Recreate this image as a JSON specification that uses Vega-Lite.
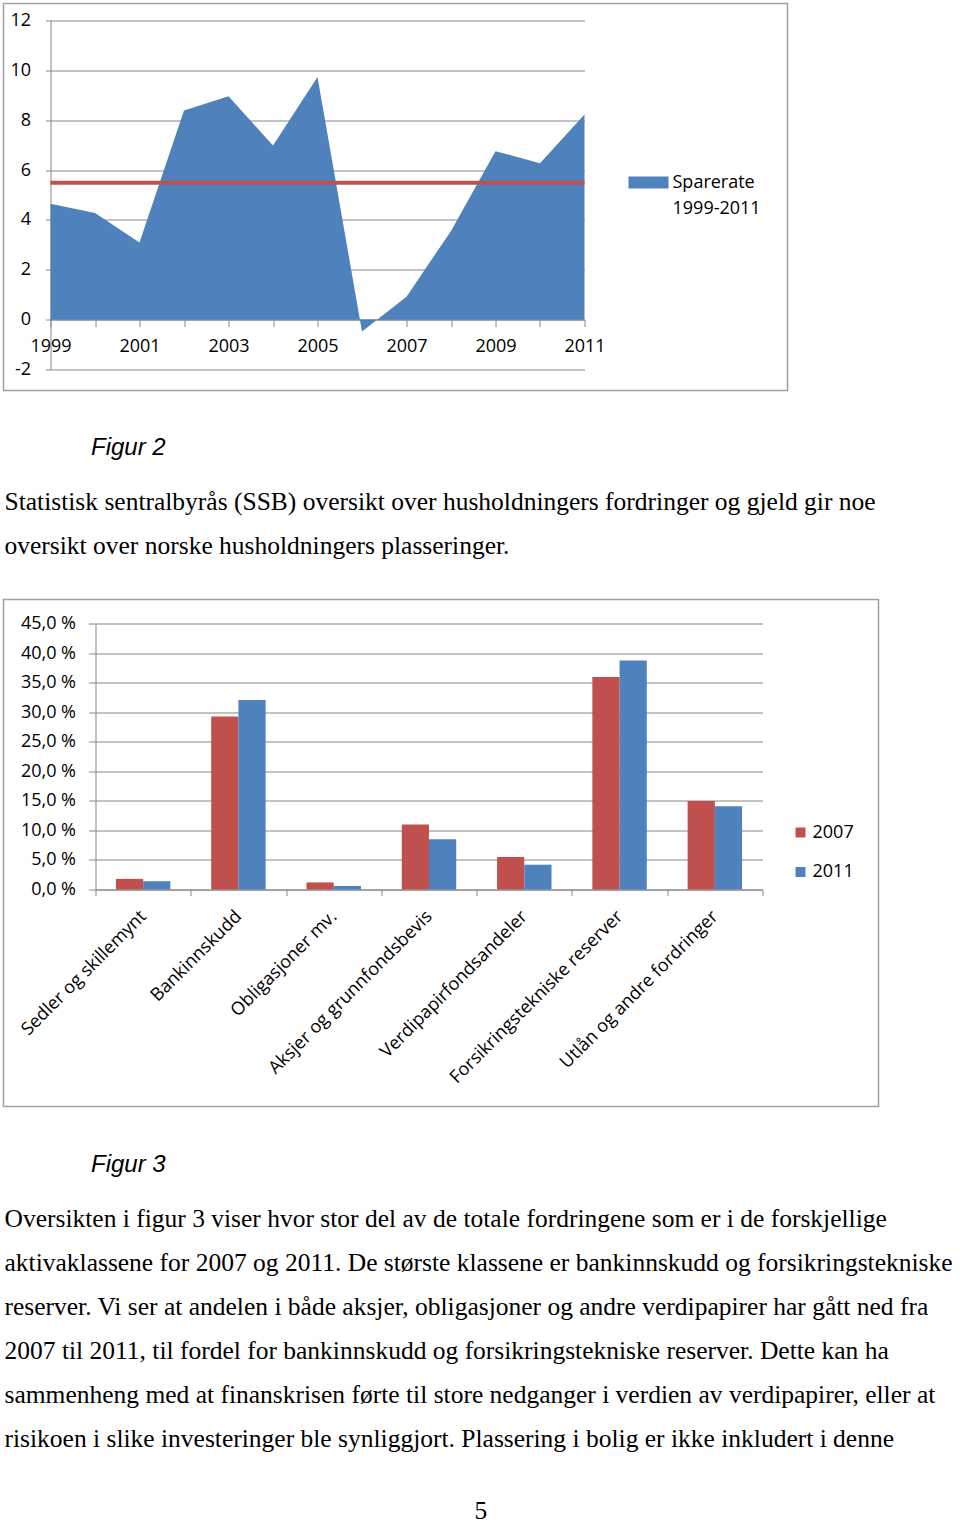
{
  "$schema": "https://vega.github.io/schema/vega-lite/v6.json",
  "background": "white",
  "padding": {"left": -4.5, "top": 2.5, "right": 0, "bottom": 0},
  "bounds": "flush",
  "spacing": 209,
  "resolve": {"scale": {"color": "independent"}, "legend": {"color": "independent"}},
  "config": {
    "view": {"stroke": "#a0a0a0", "strokeWidth": 1.5},
    "axis": {
      "labelFont": "Open Sans",
      "labelFontSize": 18,
      "labelColor": "#000000",
      "domainColor": "#868686",
      "tickColor": "#868686",
      "gridColor": "#868686",
      "gridOpacity": 1,
      "domainWidth": 1,
      "tickWidth": 1,
      "gridWidth": 1
    }
  },
  "title": {
    "text": "5",
    "orient": "bottom",
    "anchor": "start",
    "dx": 478,
    "offset": 46.5,
    "font": "Liberation Serif",
    "fontSize": 25.5,
    "fontWeight": "normal",
    "color": "#000000"
  },
  "vconcat": [
    {
      "width": 784,
      "height": 387,
      "data": {
        "values": [
          {"year": 1999, "rate": 4.65},
          {"year": 2000, "rate": 4.28},
          {"year": 2001, "rate": 3.09},
          {"year": 2002, "rate": 8.39},
          {"year": 2003, "rate": 8.96},
          {"year": 2004, "rate": 6.99},
          {"year": 2005, "rate": 9.73},
          {"year": 2006, "rate": -0.48},
          {"year": 2007, "rate": 0.92},
          {"year": 2008, "rate": 3.56},
          {"year": 2009, "rate": 6.76},
          {"year": 2010, "rate": 6.27},
          {"year": 2011, "rate": 8.23}
        ]
      },
      "title": {
        "text": [
          "Statistisk sentralbyrås (SSB) oversikt over husholdningers fordringer og gjeld gir noe",
          "oversikt over norske husholdningers plasseringer."
        ],
        "orient": "bottom",
        "anchor": "start",
        "frame": "group",
        "offset": 30.3,
        "dx": 1,
        "font": "Liberation Serif",
        "fontSize": 25.5,
        "fontWeight": "normal",
        "color": "#000000",
        "lineHeight": 44
      },
      "layer": [
        {
          "mark": {"type": "area", "strokeWidth": 0},
          "encoding": {
            "x": {
              "field": "year",
              "type": "quantitative",
              "title": "Figur 2",
              "scale": {"domain": [1999, 2011], "range": [47, 581], "nice": false, "zero": false},
              "axis": {
                "values": [1999, 2000, 2001, 2002, 2003, 2004, 2005, 2006, 2007, 2008, 2009, 2010, 2011],
                "labelExpr": "datum.value % 2 == 1 ? '' + datum.value : ''",
                "offset": -71,
                "tickSize": 7,
                "labelPadding": 11,
                "grid": false,
                "labelFlush": false,
                "labelOverlap": false,
                "labelBound": false,
                "titleX": 87,
                "titleY": 135,
                "titleAlign": "left",
                "titleBaseline": "alphabetic",
                "titleAnchor": "start",
                "titleFont": "Liberation Sans",
                "titleFontSize": 24,
                "titleFontStyle": "italic",
                "titleFontWeight": "normal",
                "titleColor": "#000000"
              }
            },
            "y": {
              "field": "rate",
              "type": "quantitative",
              "title": null,
              "scale": {"domain": [-2, 12], "range": [366, 17], "nice": false},
              "axis": {
                "values": [-2, 0, 2, 4, 6, 8, 10, 12],
                "labelExpr": "'' + datum.value",
                "offset": -47,
                "tickSize": 5,
                "labelPadding": 15,
                "grid": true,
                "labelFlush": false
              }
            },
            "color": {
              "datum": "Sparerate 1999-2011",
              "type": "nominal",
              "scale": {"domain": ["Sparerate 1999-2011"], "range": ["#4F81BD"]},
              "legend": {
                "orient": "none",
                "legendX": 625,
                "legendY": 159,
                "title": null,
                "padding": 0,
                "symbolType": "M-1,-0.3H1V0.3H-1Z",
                "symbolSize": 1600,
                "symbolStrokeWidth": 0,
                "symbolOpacity": 1,
                "labelFont": "Open Sans",
                "labelFontSize": 18,
                "labelColor": "#000000",
                "labelOffset": 4,
                "labelExpr": "split(datum.label, ' ')",
                "encode": {"labels": {"update": {"lineHeight": {"value": 26}}}}
              }
            }
          }
        },
        {
          "mark": {"type": "rule", "color": "#C0504D", "strokeWidth": 4},
          "encoding": {
            "x": {"aggregate": "min", "field": "year", "type": "quantitative"},
            "x2": {"aggregate": "max", "field": "year"},
            "y": {"aggregate": "mean", "field": "rate", "type": "quantitative"}
          }
        }
      ]
    },
    {
      "width": 875,
      "height": 507,
      "data": {
        "values": [
          {"kategori": "Sedler og skillemynt", "aar": "2007", "andel": 1.8},
          {"kategori": "Sedler og skillemynt", "aar": "2011", "andel": 1.4},
          {"kategori": "Bankinnskudd", "aar": "2007", "andel": 29.3},
          {"kategori": "Bankinnskudd", "aar": "2011", "andel": 32.1},
          {"kategori": "Obligasjoner mv.", "aar": "2007", "andel": 1.2},
          {"kategori": "Obligasjoner mv.", "aar": "2011", "andel": 0.6},
          {"kategori": "Aksjer og grunnfondsbevis", "aar": "2007", "andel": 11.0},
          {"kategori": "Aksjer og grunnfondsbevis", "aar": "2011", "andel": 8.5},
          {"kategori": "Verdipapirfondsandeler", "aar": "2007", "andel": 5.5},
          {"kategori": "Verdipapirfondsandeler", "aar": "2011", "andel": 4.2},
          {"kategori": "Forsikringstekniske reserver", "aar": "2007", "andel": 36.0},
          {"kategori": "Forsikringstekniske reserver", "aar": "2011", "andel": 38.8},
          {"kategori": "Utlån og andre fordringer", "aar": "2007", "andel": 15.0},
          {"kategori": "Utlån og andre fordringer", "aar": "2011", "andel": 14.1}
        ]
      },
      "title": {
        "text": [
          "Oversikten i figur 3 viser hvor stor del av de totale fordringene som er i de forskjellige",
          "aktivaklassene for 2007 og 2011. De største klassene er bankinnskudd og forsikringstekniske",
          "reserver. Vi ser at andelen i både aksjer, obligasjoner og andre verdipapirer har gått ned fra",
          "2007 til 2011, til fordel for bankinnskudd og forsikringstekniske reserver. Dette kan ha",
          "sammenheng med at finanskrisen førte til store nedganger i verdien av verdipapirer, eller at",
          "risikoen i slike investeringer ble synliggjort. Plassering i bolig er ikke inkludert i denne"
        ],
        "orient": "bottom",
        "anchor": "start",
        "frame": "group",
        "offset": 30.3,
        "dx": 1,
        "font": "Liberation Serif",
        "fontSize": 25.5,
        "fontWeight": "normal",
        "color": "#000000",
        "lineHeight": 44
      },
      "mark": {"type": "bar"},
      "encoding": {
        "x": {
          "field": "kategori",
          "type": "nominal",
          "sort": null,
          "title": "Figur 3",
          "scale": {"range": [92, 759], "paddingInner": 0, "paddingOuter": 0},
          "axis": {
            "offset": -217,
            "tickSize": 6,
            "tickBand": "extent",
            "labelAngle": -45,
            "labelAlign": "right",
            "labelBaseline": "middle",
            "labelPadding": 18,
            "labelLimit": 400,
            "labelOverlap": false,
            "labelBound": false,
            "grid": false,
            "titleX": 87,
            "titleY": 281.7,
            "titleAlign": "left",
            "titleBaseline": "alphabetic",
            "titleAnchor": "start",
            "titleAngle": 0,
            "titleFont": "Liberation Sans",
            "titleFontSize": 24,
            "titleFontStyle": "italic",
            "titleFontWeight": "normal",
            "titleColor": "#000000"
          }
        },
        "xOffset": {
          "field": "aar",
          "type": "nominal",
          "scale": {"paddingInner": 0, "paddingOuter": 0.75}
        },
        "y": {
          "field": "andel",
          "type": "quantitative",
          "title": null,
          "scale": {"domain": [0, 45], "range": [290, 24.3], "nice": false},
          "axis": {
            "values": [0, 5, 10, 15, 20, 25, 30, 35, 40, 45],
            "labelExpr": "replace(format(datum.value, '.1f'), '.', ',') + ' %'",
            "offset": -92,
            "tickSize": 7,
            "labelPadding": 13,
            "grid": true,
            "labelFlush": false
          }
        },
        "color": {
          "field": "aar",
          "type": "nominal",
          "scale": {"domain": ["2007", "2011"], "range": ["#C0504D", "#4F81BD"]},
          "legend": {
            "orient": "none",
            "legendX": 788,
            "legendY": 224,
            "title": null,
            "padding": 0,
            "symbolType": "square",
            "symbolSize": 100,
            "symbolStrokeWidth": 0,
            "symbolOpacity": 1,
            "labelFont": "Open Sans",
            "labelFontSize": 18,
            "labelColor": "#000000",
            "labelOffset": 3,
            "rowPadding": 21.5
          }
        }
      }
    }
  ]
}
